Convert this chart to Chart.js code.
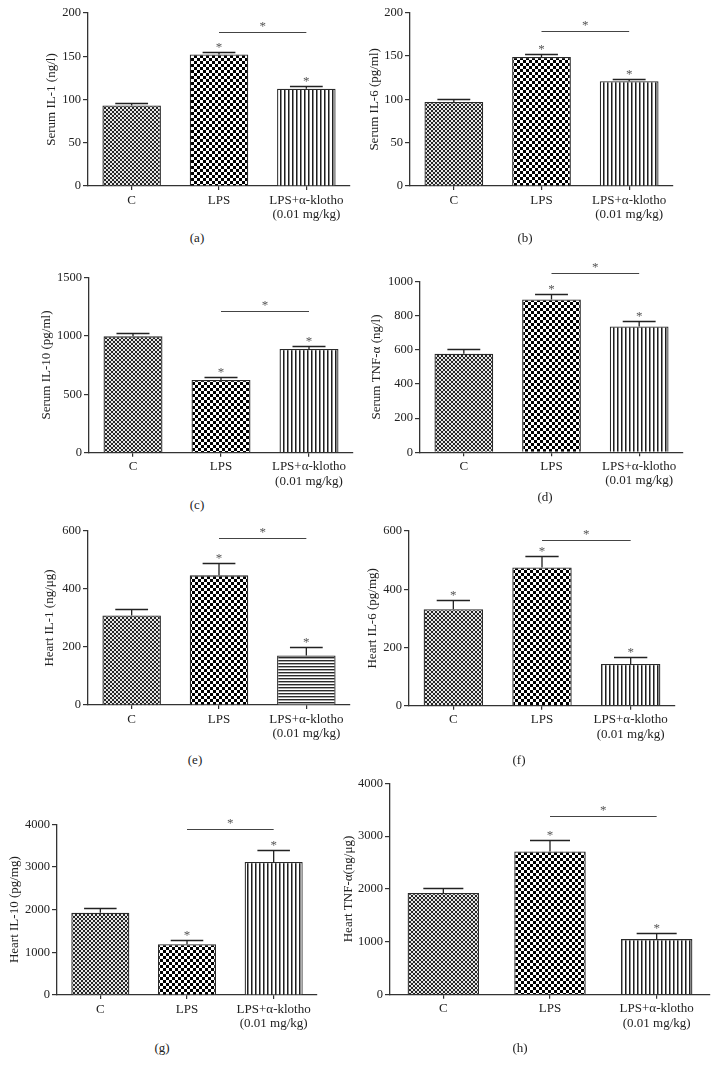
<!DOCTYPE html>
<html><head><meta charset="utf-8">
<script src="https://cdn.jsdelivr.net/npm/chart.js@4/dist/chart.umd.min.js"></script>
<style>
body{margin:0;background:#fff;width:719px;height:1075px;position:relative;overflow:hidden;font-family:"Liberation Serif",serif;}
canvas{position:absolute;}
.sub{position:absolute;font-size:13px;color:#222;transform:translate(-50%,-50%);white-space:nowrap;}
</style></head><body>
<script>
// ---------------- data ----------------
const categories = ['C', 'LPS', ['LPS+α-klotho', '(0.01 mg/kg)']];
const panelLetters = ['(a)', '(b)', '(c)', '(d)', '(e)', '(f)', '(g)', '(h)'];
const yTitles = ['Serum IL-1 (ng/l)', 'Serum IL-6 (pg/ml)', 'Serum IL-10 (pg/ml)', 'Serum TNF-α (ng/l)',
                 'Heart IL-1 (ng/μg)', 'Heart IL-6 (pg/mg)', 'Heart IL-10 (pg/mg)', 'Heart TNF-α(ng/μg)'];

const serumIL1 = [93, 152, 112.5];     const serumIL1Err = [3, 2.5, 3];
const serumIL6 = [97, 149, 121];       const serumIL6Err = [3, 3.5, 3];
const serumIL10 = [995, 622, 887];     const serumIL10Err = [27, 28, 26];
const serumTNF = [578, 896, 738];      const serumTNFErr = [29, 33, 33];
const heartIL1 = [309, 447, 171];      const heartIL1Err = [21, 43, 28];
const heartIL6 = [331, 475, 143];      const heartIL6Err = [31, 38, 24];
const heartIL10 = [1930, 1190, 3115];  const heartIL10Err = [115, 110, 285];
const heartTNF = [1925, 2710, 1052];   const heartTNFErr = [100, 225, 118];

const yMax = [200, 200, 1500, 1000, 600, 600, 4000, 4000];
const yStep = [50, 50, 500, 200, 200, 200, 1000, 1000];
const bracketValues = [178, 179, 1212, 1053, 575, 569, 3898, 3377];
const starFlags = [[0,1,1],[0,1,1],[0,1,1],[0,1,1],[0,1,1],[1,1,1],[0,1,1],[0,1,1]];

const seriesValues = [serumIL1, serumIL6, serumIL10, serumTNF, heartIL1, heartIL6, heartIL10, heartTNF];
const seriesErrors = [serumIL1Err, serumIL6Err, serumIL10Err, serumTNFErr, heartIL1Err, heartIL6Err, heartIL10Err, heartTNFErr];

// ---------------- layout (pixel frames of each panel) ----------------
const frames = [
 {L:88, R:350, top:13,    zero:186,   tx:52,  sx:197, sy:238, third:'v'},
 {L:410,R:673, top:12.7,  zero:186,   tx:375, sx:525, sy:238, third:'v'},
 {L:89, R:353, top:277.3, zero:452.7, tx:47,  sx:197, sy:505, third:'v'},
 {L:420,R:683, top:281.7, zero:452.3, tx:377, sx:545, sy:497, third:'v'},
 {L:88, R:350, top:531,   zero:705,   tx:50,  sx:195, sy:760, third:'h'},
 {L:409,R:675, top:531,   zero:705.7, tx:373, sx:519, sy:760, third:'v'},
 {L:57, R:317, top:824.3, zero:995,   tx:15,  sx:162, sy:1048, third:'v'},
 {L:390,R:710, top:783.3, zero:994.7, tx:349, sx:520, sy:1048, third:'v'}
];

Chart.defaults.font.family = '"Liberation Serif", "Times New Roman", serif';
Chart.defaults.color = '#222';

function tile(w, h, draw) {
  const c = document.createElement('canvas'); c.width = w; c.height = h;
  const g = c.getContext('2d'); draw(g); return c;
}
const tileFine = tile(4, 4, g => { g.fillStyle = '#e6e6e6'; g.fillRect(0,0,4,4); g.fillStyle = '#262626'; g.fillRect(0,0,2,2); g.fillRect(2,2,2,2); });
const tileCoarse = tile(6, 6, g => { g.fillStyle = '#ffffff'; g.fillRect(0,0,6,6); g.fillStyle = '#000000'; g.fillRect(0,0,3,3); g.fillRect(3,3,3,3); });
const tileV = tile(4, 1, g => { g.fillStyle = '#ffffff'; g.fillRect(0,0,4,1); g.fillStyle = '#1e1e1e'; g.fillRect(0,0,1,1); g.fillStyle = '#8a8a8a'; g.fillRect(1,0,1,1); });
const tileH = tile(1, 3, g => { g.fillStyle = '#ffffff'; g.fillRect(0,0,1,3); g.fillStyle = '#2a2a2a'; g.fillRect(0,0,1,1); g.fillStyle = '#aaaaaa'; g.fillRect(0,1,1,1); });

const errPlugin = {
  id: 'errs',
  afterDatasetsDraw(chart, args, opts) {
    const ctx = chart.ctx, y = chart.scales.y;
    const meta = chart.getDatasetMeta(0);
    const vals = chart.data.datasets[0].data;
    ctx.save();
    ctx.strokeStyle = '#222'; ctx.lineWidth = 1.3;
    ctx.font = '13px "Liberation Serif", serif';
    ctx.textAlign = 'center'; ctx.textBaseline = 'alphabetic';
    meta.data.forEach((bar, i) => {
      const top = Math.round(y.getPixelForValue(vals[i] + opts.errors[i])) + 0.5;
      const half = bar.width * 0.28;
      ctx.beginPath();
      ctx.moveTo(bar.x, bar.y); ctx.lineTo(bar.x, top);
      ctx.moveTo(bar.x - half, top); ctx.lineTo(bar.x + half, top);
      ctx.stroke();
      if (opts.stars[i]) { ctx.fillStyle = '#555'; ctx.fillText('*', bar.x, top - 1.5); }
    });
    const by = Math.round(y.getPixelForValue(opts.bracket)) + 0.5;
    const x1 = meta.data[1].x, x2 = meta.data[2].x;
    ctx.strokeStyle = '#444'; ctx.lineWidth = 1.2;
    ctx.beginPath(); ctx.moveTo(x1, by); ctx.lineTo(x2, by); ctx.stroke();
    ctx.fillStyle = '#555'; ctx.fillText('*', (x1 + x2) / 2, by - 3);
    ctx.restore();
  }
};

frames.forEach((f, k) => {
  const titleHalf = 13 * 1.2 / 2;
  const cl = Math.round(f.tx - titleHalf);
  const ct = Math.floor(f.top) - 30;
  const padTop = f.top - ct;
  const xH = 44;
  const padRight = 22;
  const cw = Math.ceil(f.R - cl + padRight);
  const ch = Math.ceil(f.zero - ct + xH);
  const cv = document.createElement('canvas');
  cv.width = cw; cv.height = ch;
  cv.style.left = cl + 'px'; cv.style.top = ct + 'px';
  cv.style.width = cw + 'px'; cv.style.height = ch + 'px';
  document.body.appendChild(cv);
  const ctx = cv.getContext('2d');
  const pats = [ctx.createPattern(tileFine, 'repeat'), ctx.createPattern(tileCoarse, 'repeat'),
                ctx.createPattern(f.third === 'h' ? tileH : tileV, 'repeat')];
  const yW = f.L - cl;
  const chartBottom = f.zero - ct;
  new Chart(ctx, {
    type: 'bar',
    data: { labels: categories, datasets: [{ data: seriesValues[k], backgroundColor: pats,
      borderColor: '#2a2a2a', borderWidth: 1.3, barPercentage: 0.67, categoryPercentage: 1 }] },
    options: {
      responsive: false, animation: false, devicePixelRatio: 1,
      layout: { padding: { top: padTop, right: cw - (f.R - cl), left: 0, bottom: ch - chartBottom - xH } },
      plugins: { legend: { display: false }, tooltip: { enabled: false },
        errs: { errors: seriesErrors[k], stars: starFlags[k], bracket: bracketValues[k] } },
      scales: {
        x: {
          grid: { display: true, drawOnChartArea: false, offset: false, tickLength: 4, color: '#333', lineWidth: 1.2 },
          border: { color: '#333', width: 1.3 },
          ticks: { padding: 3, font: { size: 13, lineHeight: 1.1 }, color: '#222', maxRotation: 0, autoSkip: false },
          afterFit: s => { s.height = xH; }
        },
        y: {
          min: 0, max: yMax[k],
          grid: { display: true, drawOnChartArea: false, tickLength: 5, color: '#333', lineWidth: 1.2 },
          border: { color: '#333', width: 1.3 },
          ticks: { stepSize: yStep[k], padding: 2, font: { size: 12.5 }, color: '#222', callback: v => String(v) },
          title: { display: true, text: yTitles[k], padding: 0, font: { size: 13, lineHeight: 1.2 }, color: '#222' },
          afterFit: s => { s.width = yW; }
        }
      }
    },
    plugins: [errPlugin]
  });
  const d = document.createElement('div');
  d.className = 'sub'; d.textContent = panelLetters[k];
  d.style.left = f.sx + 'px'; d.style.top = f.sy + 'px';
  document.body.appendChild(d);
});
</script>
</body></html>
